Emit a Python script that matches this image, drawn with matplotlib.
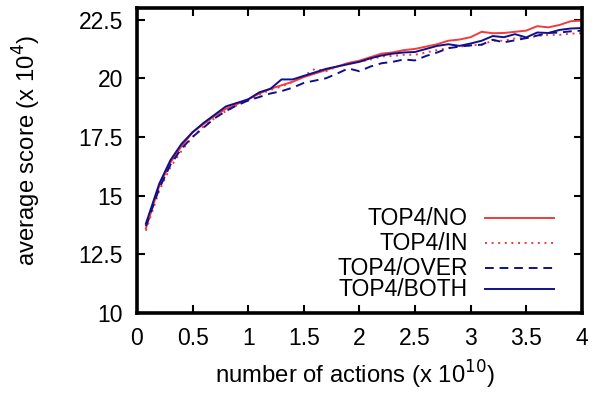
import numpy as np
import matplotlib.pyplot as plt
from matplotlib.lines import Line2D

plt.rcParams['font.family'] = ['Liberation Sans', 'DejaVu Sans']

x = [0.08, 0.2, 0.3, 0.4, 0.5, 0.6, 0.7, 0.8, 0.9, 1.0,
     1.1, 1.2, 1.3, 1.4, 1.5, 1.6, 1.7, 1.8, 1.9, 2.0,
     2.1, 2.2, 2.3, 2.4, 2.5, 2.6, 2.7, 2.8, 2.9, 3.0,
     3.1, 3.2, 3.3, 3.4, 3.5, 3.6, 3.7, 3.8, 3.9, 4.0]

top4_no = [13.6, 15.4, 16.4, 17.1, 17.7, 18.05, 18.4, 18.7, 18.9, 19.1,
           19.35, 19.55, 19.7, 19.85, 20.05, 20.2, 20.35, 20.5, 20.65, 20.75,
           20.9, 21.05, 21.1, 21.2, 21.25, 21.35, 21.45, 21.6, 21.65, 21.75,
           21.98, 21.92, 21.93, 21.98, 22.03, 22.22, 22.17, 22.27, 22.43, 22.46]
top4_in = [13.5, 15.2, 16.2, 16.9, 17.5, 17.95, 18.3, 18.6, 18.85, 19.05,
           19.3, 19.5, 19.65, 19.85, 20.1, 20.4, 20.3, 20.5, 20.65, 20.7,
           20.8, 20.93, 20.95, 21.0, 21.0, 21.1, 21.2, 21.29, 21.35, 21.4,
           21.43, 21.6, 21.6, 21.7, 21.72, 21.8, 21.85, 21.85, 21.9, 21.92]
top4_over = [13.7, 15.3, 16.3, 17.0, 17.5, 17.9, 18.3, 18.6, 18.85, 19.05,
             19.2, 19.35, 19.45, 19.6, 19.8, 19.9, 20.0, 20.2, 20.42, 20.3,
             20.5, 20.64, 20.7, 20.8, 20.76, 20.95, 21.1, 21.28, 21.35, 21.4,
             21.43, 21.64, 21.53, 21.62, 21.71, 21.82, 21.93, 21.95, 22.0, 22.03]
top4_both = [13.8, 15.5, 16.5, 17.2, 17.7, 18.1, 18.45, 18.8, 18.95, 19.1,
             19.4, 19.55, 19.95, 19.95, 20.1, 20.25, 20.4, 20.5, 20.6, 20.7,
             20.85, 20.97, 21.05, 21.1, 21.12, 21.25, 21.38, 21.45, 21.38, 21.48,
             21.6, 21.8, 21.75, 21.88, 21.74, 21.95, 21.93, 22.06, 22.12, 22.14]

labels = ['TOP4/NO', 'TOP4/IN', 'TOP4/OVER', 'TOP4/BOTH']
xticks = [0, 0.5, 1, 1.5, 2, 2.5, 3, 3.5, 4]
xticklabels = ['0', '0.5', '1', '1.5', '2', '2.5', '3', '3.5', '4']
yticks = [10, 12.5, 15, 17.5, 20, 22.5]
yticklabels = ['10', '12.5', '15', '17.5', '20', '22.5']

red = '#f03c3c'
navy = '#10108c'
styles = [(red, '-'), (red, (0, (1, 2.4))), (navy, (0, (4.5, 3))), (navy, '-')]
fs = 16.5

fig = plt.figure(figsize=(5.93, 3.94), dpi=100)
ax = fig.add_axes([0.231, 0.206, 0.75, 0.774])

for y, lab, (c, ls) in zip([top4_no, top4_in, top4_over, top4_both], labels, styles):
    ax.plot(x, y, color=c, linestyle=ls, linewidth=1.4, label=lab)

ax.set_xlim(0, 4)
ax.set_ylim(10, 23)
ax.set_xticks(xticks)
ax.set_xticklabels(xticklabels)
ax.set_yticks(yticks)
ax.set_yticklabels(yticklabels)
ax.tick_params(direction='in', length=6, width=1.5, top=True, right=True,
               labelsize=fs, pad=10)
for s in ax.spines.values():
    s.set_linewidth(2.6)

ax.set_xlabel('number of actions (x 10$^{10}$)', fontsize=17.2)
ax.set_ylabel('average score (x 10$^{4}$)', fontsize=17.2)
ax.xaxis.set_label_coords(0.491, -0.15)
ax.yaxis.set_label_coords(-0.211, 0.534)

# gnuplot style key: text right aligned, sample on the right
rows = [0.31, 0.228, 0.147, 0.077]
for r, lab, (c, ls) in zip(rows, labels, styles):
    ax.text(0.744, r, lab, transform=ax.transAxes, ha='right', va='center', fontsize=fs)
    ax.add_line(Line2D([0.782, 0.937], [r, r], transform=ax.transAxes,
                       color=c, linestyle=ls, linewidth=1.4))

plt.savefig('out.png', dpi=100)
